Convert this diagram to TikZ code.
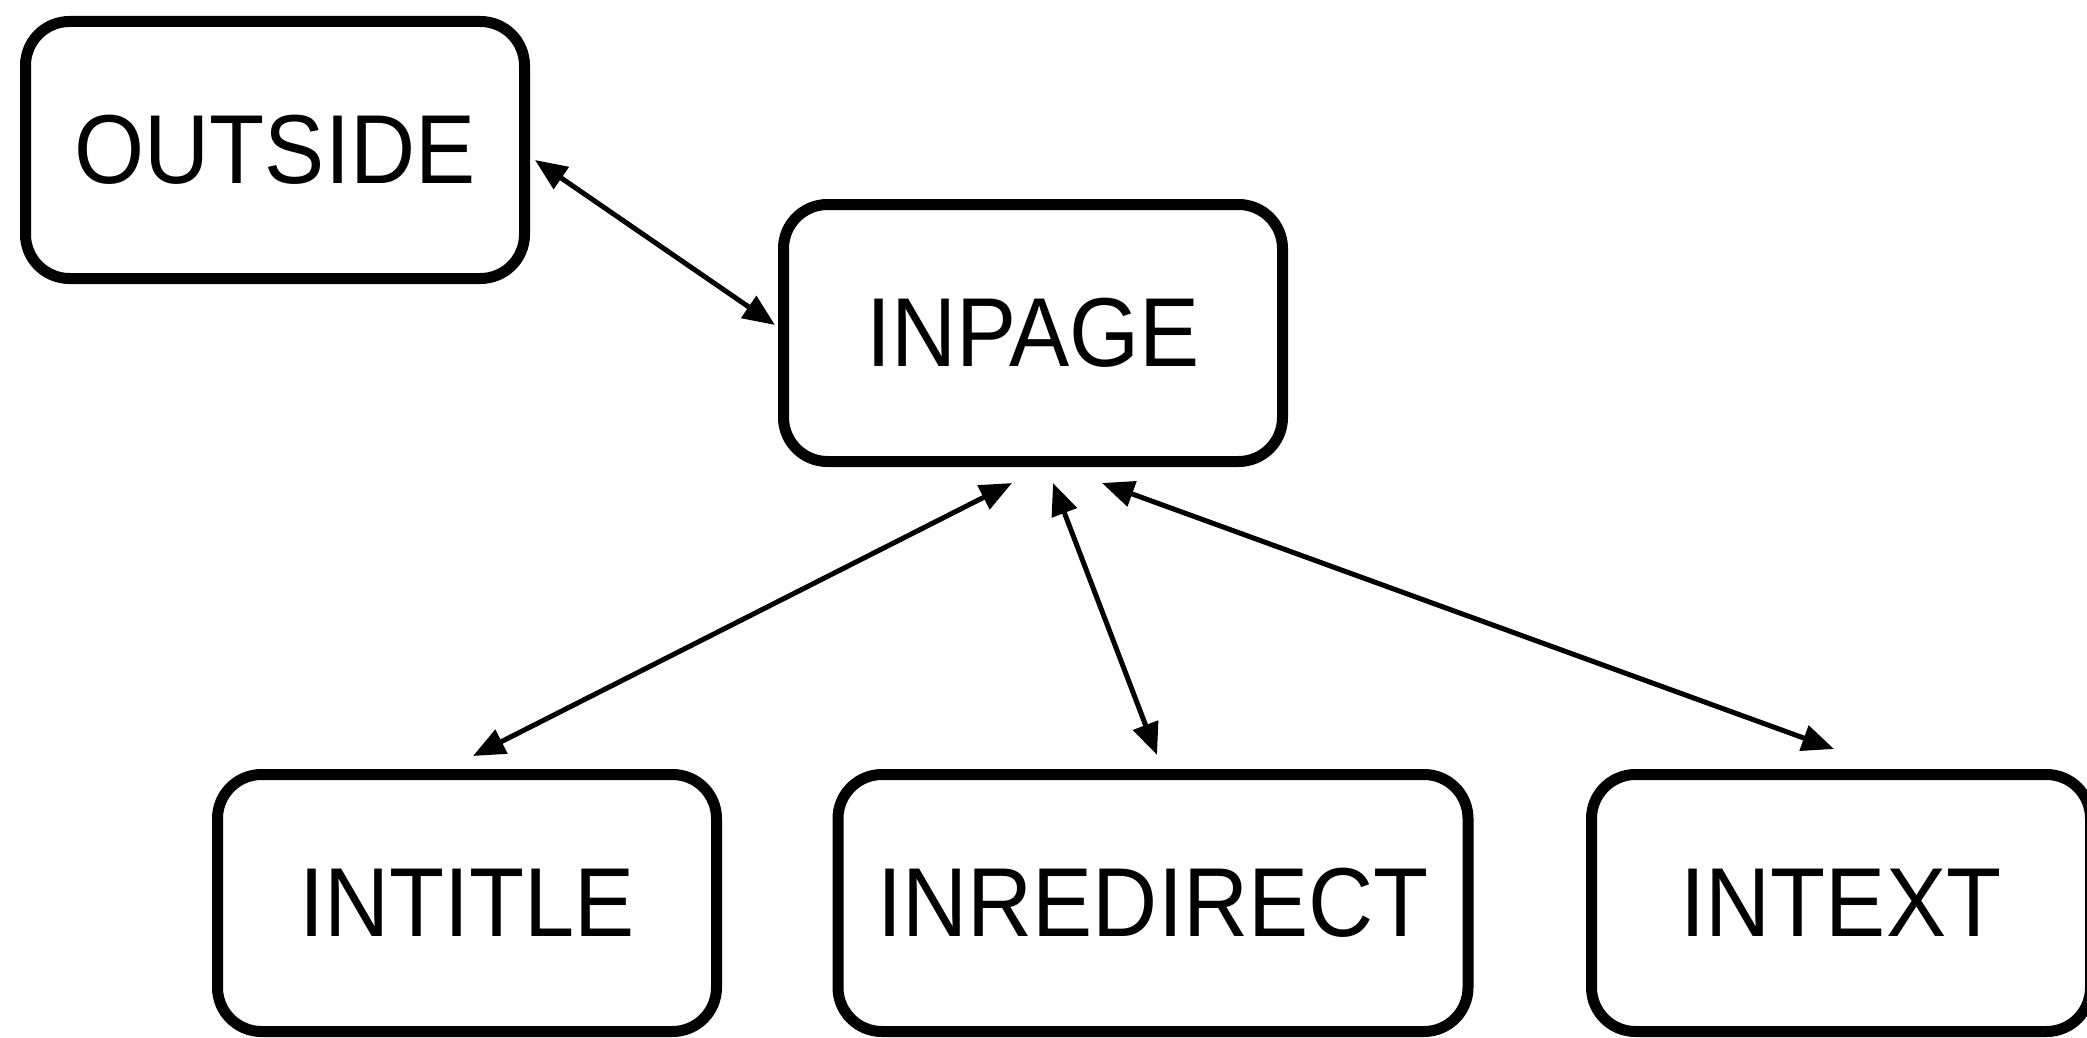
\documentclass[tikz,border=0pt]{standalone}
\usepackage{fontspec}
\setmainfont{Liberation Sans}[FakeStretch=0.92]
\usetikzlibrary{arrows.meta,shadows}
\begin{document}
\begin{tikzpicture}[x=0.5pt,y=-0.5pt,
  state/.style={draw=black, line width=5.5pt, rounded corners=22pt, fill=white,
    inner sep=0pt, minimum width=249.5pt, minimum height=128.5pt,
    font=\fontsize{49}{49}\selectfont,
    drop shadow={shadow xshift=0pt, shadow yshift=-2.5pt, opacity=0.15}},
  link/.style={line width=2.5pt,
    {Triangle[length=16pt,width=13pt]}-{Triangle[length=16pt,width=13pt]}}]
\useasboundingbox (0,0) rectangle (2087,1038);

% states
\node[state] (outside)    at (275,150)  {OUTSIDE};
\node[state] (inpage)     at (1033,333) {INPAGE};
\node[state] (intitle)    at (467,903)  {INTITLE};
\node[state, minimum width=315pt] (inredirect) at (1153,903) {INREDIRECT};
\node[state] (intext)     at (1841,903) {INTEXT};

% transitions
\draw[link] ([shift={(5,10)}]outside.east) -- ([shift={(-3,-8)}]inpage.west);
\draw[link] ([shift={(6,-13)}]intitle.north) -- ([shift={(-21,16)}]inpage.south);
\draw[link] ([shift={(4,-14)}]inredirect.north) -- ([shift={(20,16)}]inpage.south);
\draw[link] ([shift={(-7,-20)}]intext.north) -- ([shift={(69,16)}]inpage.south);
\end{tikzpicture}
\end{document}
